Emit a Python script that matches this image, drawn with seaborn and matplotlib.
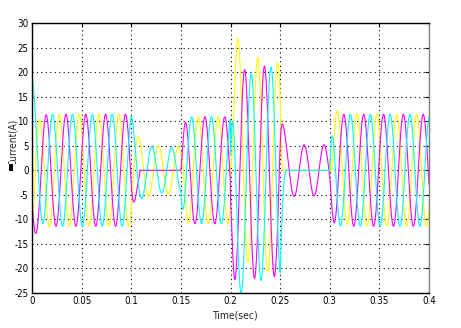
import numpy as np
import pandas as pd
import matplotlib
matplotlib.use("Agg")
import matplotlib.pyplot as plt
from matplotlib.patches import Rectangle
import seaborn as sns

# ---------------- data ----------------
freq_hz = 50
seg_start = [0.00, 0.10, 0.15, 0.20, 0.25, 0.30]
seg_end = [0.10, 0.15, 0.20, 0.25, 0.30, 0.40]
amp_yellow = [11.4, 4.9, 10.9, 21.5, 0.0, 11.4]
amp_magenta = [11.4, 0.0, 10.9, 21.5, 5.2, 11.4]
amp_cyan = [11.4, 4.6, 10.9, 21.5, 0.0, 11.4]
dc_yellow = [-7.0, 0.0, 0.0, 9.0, 0.0, 2.0]
dc_magenta = [-4.0, 0.0, 0.0, -2.6, -0.3, 0.0]
dc_cyan = [8.0, 0.0, 0.0, -7.4, 0.0, 0.0]
dc_tau = [0.004, 0.01, 0.01, 0.015, 0.01, 0.01]
blend_tau = [0.002, 0.006, 0.002, 0.002, 0.0025, 0.002]
peak_yellow = 0.0075
peak_magenta = 0.0142
peak_cyan = 0.0008
phase_names = ["Yellow", "Magenta", "Cyan"]
phase_colors = ["#FFFF00", "#FF00FF", "#00FFFF"]
x_ticks = [0, 0.05, 0.1, 0.15, 0.2, 0.25, 0.3, 0.35, 0.4]
x_tick_labels = ["0", "0.05", "0.1", "0.15", "0.2", "0.25", "0.3", "0.35", "0.4"]
y_ticks = [-25, -20, -15, -10, -5, 0, 5, 10, 15, 20, 25, 30]


def build_phase(t, amps, dcs, tpk):
    out = np.zeros_like(t)
    for i, (t0, t1) in enumerate(zip(seg_start, seg_end)):
        m = (t >= t0) & ((t < t1) if i < len(seg_start) - 1 else (t <= t1))
        tt = t[m] - t0
        prev = amps[i - 1] if i > 0 else amps[i]
        A = amps[i] + (prev - amps[i]) * np.exp(-tt / blend_tau[i])
        c = np.cos(2 * np.pi * freq_hz * (t[m] - tpk))
        y = A * c + dcs[i] * np.exp(-tt / dc_tau[i])
        if amps[i] == 0 and prev > 0:
            s = np.sign(c)
            idx = np.where((tt[1:] > 0.002) & (s[1:] != s[:-1]))[0]
            if len(idx):
                y[idx[0] + 1:] = 0.0
        out[m] = y
    return out


t = np.round(np.arange(0, 0.4 + 1e-9, 0.0002), 6)
frames = []
for name, amps, dcs, tpk in zip(phase_names,
                                [amp_yellow, amp_magenta, amp_cyan],
                                [dc_yellow, dc_magenta, dc_cyan],
                                [peak_yellow, peak_magenta, peak_cyan]):
    frames.append(pd.DataFrame({"t": t, "i": build_phase(t, amps, dcs, tpk), "phase": name}))
df = pd.concat(frames, ignore_index=True)

# ---------------- plot ----------------
sns.set_style("white")
plt.rcParams["font.family"] = ["DejaVu Sans", "Liberation Sans"]
plt.rcParams["font.stretch"] = "condensed"

fig = plt.figure(figsize=(4.61, 3.28), dpi=100)
ax = fig.add_axes([32 / 461, 1 - 293 / 328, (429 - 32) / 461, (293 - 23) / 328])

sns.lineplot(data=df, x="t", y="i", hue="phase", hue_order=phase_names,
             palette=phase_colors, estimator=None, sort=False, linewidth=0.8,
             legend=False, ax=ax)

ax.set_xlim(0, 0.4)
ax.set_ylim(-25, 30)
ax.set_xticks(x_ticks)
ax.set_xticklabels(x_tick_labels)
ax.set_yticks(y_ticks)
ax.set_yticklabels([str(v) for v in y_ticks])
ax.grid(True, linestyle=(0, (1, 3)), color="black", linewidth=0.8)
ax.tick_params(axis="both", which="both", direction="in", length=3, width=0.8,
               labelsize=7, top=True, right=True, pad=2.5, colors="black")
for side in ["left", "bottom", "top"]:
    ax.spines[side].set_color("black")
    ax.spines[side].set_linewidth(1.0)
ax.spines["right"].set_color("#808080")
ax.spines["right"].set_linewidth(1.0)

ax.set_xlabel("")
ax.set_ylabel("")
fig.text(235 / 461, 1 - 316 / 328, "Time(sec)", ha="center", va="center", fontsize=7.5)
fig.text(12.5 / 461, 1 - 142 / 328, "Current(A)", ha="center", va="center",
         rotation=90, fontsize=7.2)
fig.patches.append(Rectangle((8 / 461, 1 - 173 / 328), 9 / 461, 9 / 328,
                             transform=fig.transFigure, facecolor="white",
                             edgecolor="none", zorder=5))
fig.patches.append(Rectangle((9 / 461, 1 - 171 / 328), 4 / 461, 7 / 328,
                             transform=fig.transFigure, facecolor="black",
                             edgecolor="none", zorder=6))

fig.savefig("out.png", dpi=100)
